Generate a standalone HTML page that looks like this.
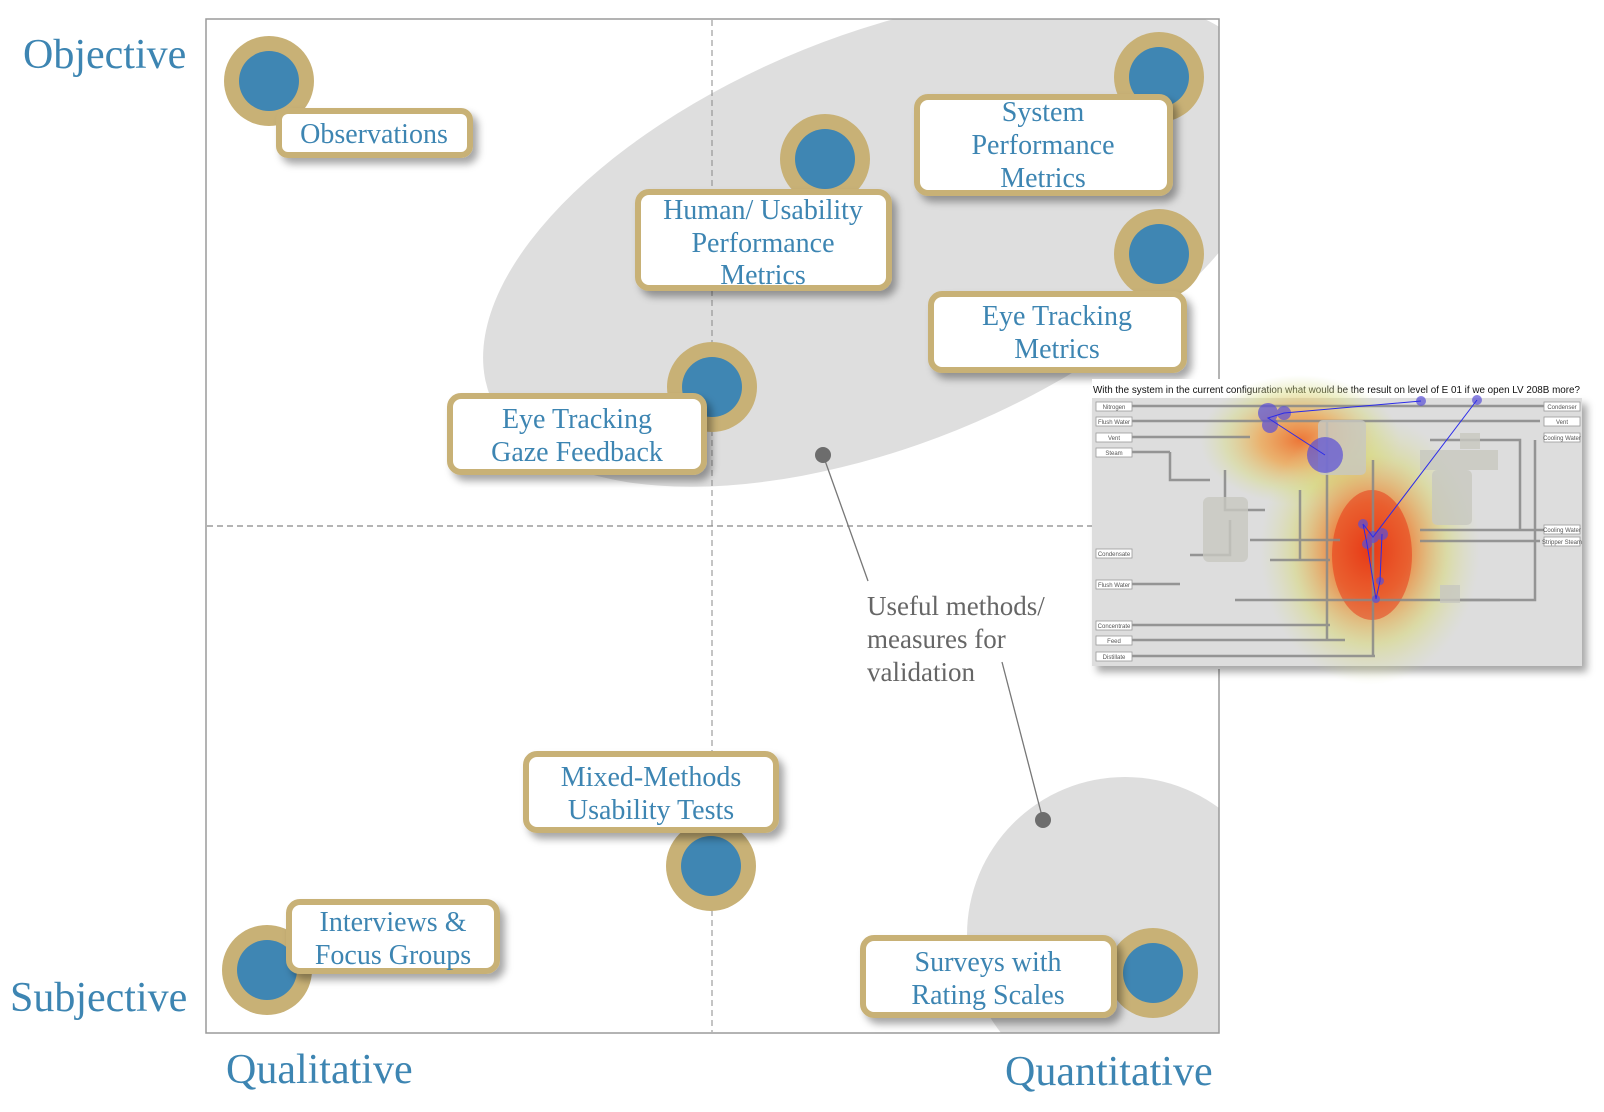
<!DOCTYPE html>
<html><head><meta charset="utf-8"><style>
html,body{margin:0;padding:0;background:#fff;}
svg{display:block;}
.ax{font-family:"Liberation Serif",serif;fill:#3d85b2;font-size:42px;}
.lb{font-family:"Liberation Serif",serif;fill:#3d85b2;font-size:28px;text-anchor:middle;}
.gr{font-family:"Liberation Serif",serif;fill:#666;font-size:27px;}
.sm{font-family:"Liberation Sans",sans-serif;font-size:6px;fill:#555;text-anchor:middle;}
</style></head><body>
<svg width="1604" height="1112" viewBox="0 0 1604 1112" xmlns="http://www.w3.org/2000/svg">
<defs>
<clipPath id="bx"><rect x="206" y="19" width="1013" height="1014"/></clipPath>
<filter id="sh" x="-20%" y="-20%" width="150%" height="160%"><feDropShadow dx="5" dy="6" stdDeviation="4" flood-color="#000" flood-opacity="0.35"/></filter>
<radialGradient id="h1" cx="0.5" cy="0.5" r="0.5"><stop offset="0" stop-color="#e83a12" stop-opacity="0.95"/><stop offset="0.35" stop-color="#ee7a2a" stop-opacity="0.8"/><stop offset="0.7" stop-color="#d8d870" stop-opacity="0.5"/><stop offset="1" stop-color="#d8e0a0" stop-opacity="0"/></radialGradient>
<radialGradient id="h2" cx="0.5" cy="0.5" r="0.5"><stop offset="0" stop-color="#ee6a25" stop-opacity="0.9"/><stop offset="0.4" stop-color="#f0a040" stop-opacity="0.7"/><stop offset="0.75" stop-color="#d8dc80" stop-opacity="0.45"/><stop offset="1" stop-color="#d8e0a0" stop-opacity="0"/></radialGradient>
</defs>
<g clip-path="url(#bx)">
<ellipse cx="880" cy="240" rx="420" ry="205" transform="rotate(-22 880 240)" fill="#dedede"/>
<circle cx="1125" cy="935" r="158" fill="#dedede"/>
</g>
<rect x="206" y="19" width="1013" height="1014" fill="none" stroke="#9a9a9a" stroke-width="1.5"/>
<line x1="712" y1="20" x2="712" y2="1032" stroke="#888" stroke-width="1" stroke-dasharray="6,4"/>
<line x1="207" y1="526" x2="1092" y2="526" stroke="#888" stroke-width="1.2" stroke-dasharray="6,4"/>

<text class="ax" x="23" y="68">Objective</text>
<text class="ax" x="10" y="1011">Subjective</text>
<text class="ax" x="226" y="1083">Qualitative</text>
<text class="ax" x="1005" y="1085">Quantitative</text>

<line x1="823" y1="455" x2="868" y2="581" stroke="#777" stroke-width="1.3"/>
<line x1="1043" y1="820" x2="1002" y2="662" stroke="#777" stroke-width="1.3"/>
<ellipse cx="823" cy="455" rx="8" ry="8" fill="#6d6d6d"/>
<ellipse cx="1043" cy="820" rx="8" ry="8" fill="#6d6d6d"/>
<text class="gr" x="867" y="615">Useful methods/</text>
<text class="gr" x="867" y="648">measures for</text>
<text class="gr" x="867" y="681">validation</text>

<g fill="#c8b176">
<circle cx="269" cy="81" r="45"/><circle cx="825" cy="159" r="45"/><circle cx="1159" cy="77" r="45"/>
<circle cx="1159" cy="254" r="45"/><circle cx="712" cy="387" r="45"/><circle cx="711" cy="866" r="45"/>
<circle cx="267" cy="970" r="45"/><circle cx="1153" cy="973" r="45"/>
</g>
<g fill="#3f86b3">
<circle cx="269" cy="81" r="30"/><circle cx="825" cy="159" r="30"/><circle cx="1159" cy="77" r="30"/>
<circle cx="1159" cy="254" r="30"/><circle cx="712" cy="387" r="30"/><circle cx="711" cy="866" r="30"/>
<circle cx="267" cy="970" r="30"/><circle cx="1153" cy="973" r="30"/>
</g>

<g fill="#fff" stroke="#c8b176" stroke-width="6" filter="url(#sh)">
<rect x="279" y="111" width="191" height="44" rx="9"/>
<rect x="638" y="192" width="251" height="96" rx="11"/>
<rect x="917" y="97" width="253" height="96" rx="11"/>
<rect x="931" y="294" width="253" height="76" rx="11"/>
<rect x="450" y="396" width="254" height="76" rx="11"/>
<rect x="526" y="754" width="250" height="76" rx="11"/>
<rect x="289" y="902" width="208" height="69" rx="11"/>
<rect x="863" y="938" width="251" height="77" rx="11"/>
</g>
<text class="lb" x="374" y="143">Observations</text>
<text class="lb" x="763" y="219">Human/ Usability</text>
<text class="lb" x="763" y="252">Performance</text>
<text class="lb" x="763" y="284">Metrics</text>
<text class="lb" x="1043" y="121">System</text>
<text class="lb" x="1043" y="154">Performance</text>
<text class="lb" x="1043" y="187">Metrics</text>
<text class="lb" x="1057" y="325">Eye Tracking</text>
<text class="lb" x="1057" y="358">Metrics</text>
<text class="lb" x="577" y="428">Eye Tracking</text>
<text class="lb" x="577" y="461">Gaze Feedback</text>
<text class="lb" x="651" y="786">Mixed-Methods</text>
<text class="lb" x="651" y="819">Usability Tests</text>
<text class="lb" x="393" y="931">Interviews &amp;</text>
<text class="lb" x="393" y="964">Focus Groups</text>
<text class="lb" x="988" y="971">Surveys with</text>
<text class="lb" x="988" y="1004">Rating Scales</text>

<rect x="1092" y="379" width="490" height="290" fill="#fff"/>
<text x="1093" y="393" font-family="Liberation Sans, sans-serif" font-size="9.9" fill="#111" textLength="487" lengthAdjust="spacingAndGlyphs">With the system in the current configuration what would be the result on level of E 01 if we open LV 208B more?</text>
<g filter="url(#sh)"><rect x="1092" y="398" width="490" height="268" fill="#dcdcdc"/></g>
<rect x="1092" y="398" width="490" height="268" fill="#dddddd"/>
<ellipse cx="1300" cy="440" rx="100" ry="65" fill="url(#h2)"/>
<ellipse cx="1370" cy="550" rx="110" ry="135" fill="url(#h1)"/>
<ellipse cx="1372" cy="555" rx="40" ry="65" fill="#e83010" opacity="0.5"/>
<g stroke="#888" stroke-width="2.5" fill="none" opacity="0.85">
<line x1="1132" y1="406" x2="1550" y2="406"/><line x1="1132" y1="421" x2="1540" y2="421"/>
<line x1="1132" y1="437" x2="1250" y2="437"/><line x1="1132" y1="452" x2="1170" y2="452"/>
<polyline points="1170,452 1170,480 1210,480"/><polyline points="1225,470 1225,510 1265,510"/>
<polyline points="1235,600 1500,600"/><line x1="1132" y1="640" x2="1345" y2="640"/>
<line x1="1132" y1="656" x2="1375" y2="656"/><line x1="1132" y1="625" x2="1330" y2="625"/>
<line x1="1132" y1="584" x2="1180" y2="584"/><polyline points="1250,540 1340,540"/>
<polyline points="1270,560 1330,560"/><line x1="1327" y1="420" x2="1327" y2="640"/>
<line x1="1373" y1="460" x2="1373" y2="656"/><polyline points="1430,440 1520,440 1520,530"/>
<polyline points="1420,530 1550,530"/><polyline points="1420,541 1540,541"/>
<polyline points="1300,490 1300,560"/><polyline points="1460,600 1535,600 1535,440"/>
<polyline points="1190,555 1230,555 1230,520"/>
</g>
<g fill="#c8c8c0" opacity="0.8">
<rect x="1318" y="420" width="48" height="55" rx="5"/><rect x="1420" y="450" width="78" height="20"/>
<rect x="1432" y="470" width="40" height="55" rx="5"/><rect x="1203" y="497" width="45" height="65" rx="6"/>
<rect x="1440" y="585" width="20" height="18"/><rect x="1460" y="433" width="20" height="16"/>
</g>
<g fill="#fff" stroke="#999" stroke-width="0.8">
<rect x="1096" y="402" width="36" height="9"/><rect x="1096" y="417" width="36" height="9"/>
<rect x="1096" y="433" width="36" height="9"/><rect x="1096" y="448" width="36" height="9"/>
<rect x="1096" y="549" width="36" height="9"/><rect x="1096" y="580" width="36" height="9"/>
<rect x="1096" y="621" width="36" height="9"/><rect x="1096" y="636" width="36" height="9"/>
<rect x="1096" y="652" width="36" height="9"/>
<rect x="1544" y="402" width="36" height="9"/><rect x="1544" y="417" width="36" height="9"/>
<rect x="1544" y="433" width="36" height="9"/><rect x="1544" y="525" width="36" height="9"/>
<rect x="1544" y="537" width="36" height="9"/>
</g>
<g class="sm">
<text class="sm" x="1114" y="409">Nitrogen</text><text class="sm" x="1114" y="424">Flush Water</text>
<text class="sm" x="1114" y="440">Vent</text><text class="sm" x="1114" y="455">Steam</text>
<text class="sm" x="1114" y="556">Condensate</text><text class="sm" x="1114" y="587">Flush Water</text>
<text class="sm" x="1114" y="628">Concentrate</text><text class="sm" x="1114" y="643">Feed</text>
<text class="sm" x="1114" y="659">Distillate</text>
<text class="sm" x="1562" y="409">Condenser</text><text class="sm" x="1562" y="424">Vent</text>
<text class="sm" x="1562" y="440">Cooling Water</text><text class="sm" x="1562" y="532">Cooling Water</text>
<text class="sm" x="1562" y="544">Stripper Steam</text>
</g>
<g fill="#5a4fd8" opacity="0.7">
<circle cx="1268" cy="413" r="10"/><circle cx="1284" cy="413" r="7"/><circle cx="1270" cy="425" r="8"/>
<circle cx="1325" cy="455" r="18"/><circle cx="1421" cy="401" r="5"/><circle cx="1477" cy="400" r="5"/>
<circle cx="1363" cy="524" r="5"/><circle cx="1373" cy="537" r="6"/><circle cx="1382" cy="534" r="6"/>
<circle cx="1367" cy="544" r="5"/><circle cx="1380" cy="581" r="4"/><circle cx="1376" cy="599" r="4"/>
</g>
<polyline points="1421,401 1284,413 1268,418 1325,455" fill="none" stroke="#2b2bea" stroke-width="1"/>
<polyline points="1477,400 1373,537 1363,524 1367,544 1376,599 1380,581 1382,534" fill="none" stroke="#2b2bea" stroke-width="1"/>
</svg>
</body></html>
